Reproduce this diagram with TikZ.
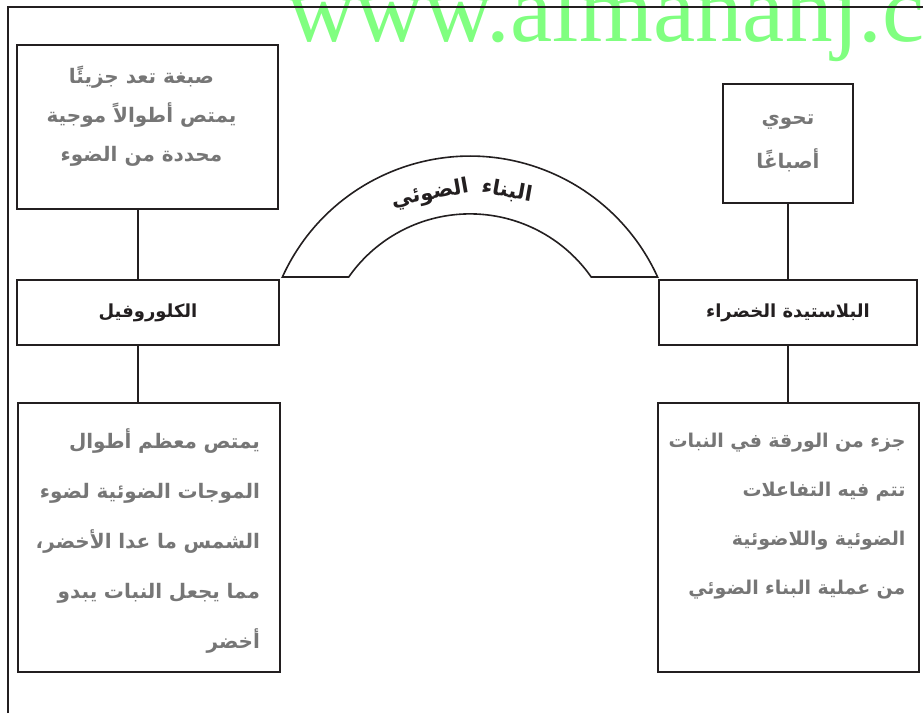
\documentclass[tikz,border=0pt]{standalone}
\usepackage{fontspec}
\usetikzlibrary{positioning}
\newfontfamily\arabicfont[Script=Arabic]{DejaVu Sans}
\newfontfamily\wmfont{Liberation Serif}
\TeXXeTstate=1
\definecolor{inkline}{RGB}{35,31,32}
\definecolor{greytext}{RGB}{118,118,118}
\definecolor{wmgreen}{RGB}{128,255,128}
\newcommand{\rtl}[1]{\beginR #1\endR}

\begin{document}
\begin{tikzpicture}[x=1pt,y=1pt,
	outline/.style={line width=2.5pt,inkline},
	card/.style={draw=inkline,line width=2pt,inner sep=0pt},
	link/.style={line width=2pt,inkline},
	archline/.style={line width=1.6pt,inkline},
	boxlabel/.style={font=\arabicfont\bfseries\fontsize{18}{20}\selectfont,text=inkline},
	archword/.style={font=\arabicfont\bfseries\fontsize{21}{22}\selectfont,text=inkline,inner sep=0pt},
	info/.style={font=\arabicfont\bfseries\fontsize{20}{50}\selectfont,text=greytext,inner sep=0pt},
	wmark/.style={font=\wmfont\fontsize{95}{100}\selectfont,text=wmgreen,inner sep=0pt}]
	\useasboundingbox (0,0) rectangle (923,713);
	\clip (0,0) rectangle (923,713);
	
	\node[wmark,anchor=base west] (wm) at (287,671) {www.almanahj.com};
	\draw[outline] (8,0) -- (8,706) -- (923,706);
	
	% boxes
	\node[card,minimum width=261pt,minimum height=164pt] (pigdef) at (147.5,586) {};
	\node[card,minimum width=130pt,minimum height=119pt] (haspig) at (788,569.5) {};
	\node[card,minimum width=262pt,minimum height=65pt,boxlabel] (chloro) at (148,400.5) {\rtl{الكلوروفيل}};
	\node[card,minimum width=258pt,minimum height=65pt,boxlabel] (plast) at (788,400.5) {\rtl{البلاستيدة الخضراء}};
	\node[card,minimum width=262pt,minimum height=269pt] (chlinfo) at (149,175.5) {};
	\node[card,minimum width=261pt,minimum height=269pt] (plinfo) at (788.5,175.5) {};
	
	% texts
	\node[info,align=center,font=\arabicfont\bfseries\fontsize{20}{39}\selectfont] (pigtxt) at ([xshift=-6pt,yshift=11pt]pigdef.center)
		{\rtl{صبغة تعد جزيئًا}\\\rtl{يمتص أطوالاً موجية}\\\rtl{محددة من الضوء}};
	\node[info,align=center,font=\arabicfont\bfseries\fontsize{20}{44}\selectfont] (pigtxt2) at (haspig.center)
		{\rtl{تحوي}\\\rtl{أصباغًا}};
	\node[info,align=right,text width=230pt] (chltxt) at ([xshift=-4pt,yshift=-4pt]chlinfo.center)
		{\rtl{يمتص معظم أطوال}\\\rtl{الموجات الضوئية لضوء}\\\rtl{الشمس ما عدا الأخضر،}\\\rtl{مما يجعل النبات يبدو}\\\rtl{أخضر}};
	\node[info,align=right,text width=238pt,font=\arabicfont\bfseries\fontsize{19}{49}\selectfont] (pltxt) at ([xshift=-2pt,yshift=21pt]plinfo.center)
		{\rtl{جزء من الورقة في النبات}\\\rtl{تتم فيه التفاعلات}\\\rtl{الضوئية واللاضوئية}\\\rtl{من عملية البناء الضوئي}};
	
	% connectors
	\draw[link] ([xshift=-9.5pt]pigdef.south) -- ([xshift=-9.5pt]pigdef.south |- chloro.north);
	\draw[link] ([xshift=-10pt]chloro.south) -- ([xshift=-10pt]chloro.south |- chlinfo.north);
	\draw[link] (haspig.south) -- (haspig.south |- plast.north);
	\draw[link] (plast.south) -- (plast.south |- plinfo.north);
	
	% arch
	\draw[archline] (282.4,436) arc[start angle=155.6,end angle=24.4,radius=206]
		-- (591.2,436) arc[start angle=35,end angle=145,radius=148] -- cycle;
	\node[archword,rotate=-10] (archa) at (507,522) {\rtl{البناء}};
	\node[archword,rotate=10] (archb) at (430,519) {\rtl{الضوئي}};
\end{tikzpicture}
\end{document}
